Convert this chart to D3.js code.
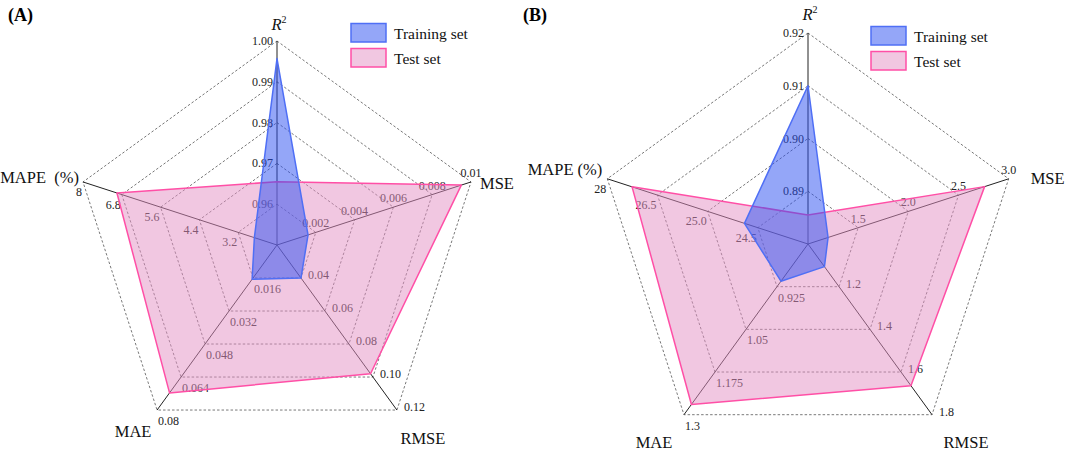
<!DOCTYPE html>
<html><head><meta charset="utf-8">
<script src="https://cdn.jsdelivr.net/npm/d3@7"></script>
<style>
body{margin:0;background:#fff}
svg{display:block}
text{font-family:"Liberation Serif","Times New Roman",serif}
</style>
</head><body>
<svg id="chart" width="1065" height="451"></svg>
<script>
// ---------- data ----------
const seriesNames = ["Training set", "Test set"];

// Panel (A)
const axisNamesA = ["R²", "MSE", "RMSE", "MAE", "MAPE\u00a0 (%)"];
const domainsA = [[0.95, 1.00], [0, 0.01], [0.02, 0.12], [0, 0.08], [2, 8]];
const tickLabelsA = [
  ["0.96", "0.97", "0.98", "0.99", "1.00"],
  ["0.002", "0.004", "0.006", "0.008", "0.01"],
  ["0.04", "0.06", "0.08", "0.10", "0.12"],
  ["0.016", "0.032", "0.048", "0.064", "0.08"],
  ["3.2", "4.4", "5.6", "6.8", "8"]
];
const trainA = [0.9957, 0.0016, 0.040, 0.0166, 2.7];
const testA  = [0.9655, 0.0095, 0.098, 0.0717, 6.95];

// Panel (B)
const axisNamesB = ["R²", "MSE", "RMSE", "MAE", "MAPE (%)"];
const domainsB = [[0.88, 0.92], [1.0, 3.0], [1.0, 1.8], [0.8, 1.3], [22, 28]];
const tickLabelsB = [
  ["0.89", "0.90", "0.91", "0.92"],
  ["1.5", "2.0", "2.5", "3.0"],
  ["1.2", "1.4", "1.6", "1.8"],
  ["0.925", "1.05", "1.175", "1.3"],
  ["24.5", "25.0", "26.5", "28"]
];
const trainB = [0.910, 1.2, 1.106, 0.909, 23.9];
const testB  = [0.8855, 2.76, 1.664, 1.27, 27.26];

// ---------- layout ----------
const panels = [
  { tag: "(A)", tagX: 8, tagY: 21, cx: 277, cy: 245, R: 204,
    names: axisNamesA, domains: domainsA, ticks: tickLabelsA, train: trainA, test: testA,
    nameOff: [[2, -11, "middle"], [9, 7, "start"], [26, 34, "middle"], [-24, 27, "middle"], [-4, 1, "end"]],
    legX: 351, legY: 23.5 },
  { tag: "(B)", tagX: 523, tagY: 21, cx: 808, cy: 244, R: 211,
    names: axisNamesB, domains: domainsB, ticks: tickLabelsB, train: trainB, test: testB,
    nameOff: [[2, -13, "middle"], [22, 5, "start"], [34, 33, "middle"], [-30, 33, "middle"], [-5, -4, "end"]],
    legX: 871, legY: 26.5 }
];
// tick label placement per axis: [anchor, dx, dy]
const tickPlace = [["end", -4, 4], ["middle", 0, -5], ["start", 7, 1], ["start", 1, 15], ["end", -1, 14]];

const colors = { trainFill: "#2a4df2", trainStroke: "#4f6ff5", testFill: "#e38fc3", testStroke: "#ff4fa6" };

const svg = d3.select("#chart");
const N = 5;
const angle = i => i * 2 * Math.PI / N; // clockwise from 12 o'clock

panels.forEach(p => {
  const g = svg.append("g").attr("transform", `translate(${p.cx},${p.cy})`);
  const scales = p.domains.map(d => d3.scaleLinear().domain(d).range([0, p.R]));
  const nRings = p.ticks[0].length;
  const pt = (i, r) => [r * Math.sin(angle(i)), -r * Math.cos(angle(i))];

  // rings
  const ringLine = d3.lineRadial().angle((d, i) => angle(i)).radius(d => d).curve(d3.curveLinearClosed);
  for (let k = 1; k <= nRings; k++) {
    const rr = d3.range(N).map(i => scales[i](p.domains[i][0] + k / nRings * (p.domains[i][1] - p.domains[i][0])));
    g.append("path").attr("d", ringLine(rr)).attr("fill", "none")
      .attr("stroke", "#555").attr("stroke-width", 0.8).attr("stroke-dasharray", "2.5,2");
  }
  // axes
  d3.range(N).forEach(i => {
    const e = pt(i, p.R);
    g.append("line").attr("x1", 0).attr("y1", 0).attr("x2", e[0]).attr("y2", e[1])
      .attr("stroke", "#222").attr("stroke-width", 1);
  });
  // tick labels
  d3.range(N).forEach(i => {
    p.ticks[i].forEach((lab, k) => {
      const v = p.domains[i][0] + (k + 1) / nRings * (p.domains[i][1] - p.domains[i][0]);
      const q = pt(i, scales[i](v));
      const tp = tickPlace[i];
      g.append("text").attr("x", q[0] + tp[1]).attr("y", q[1] + tp[2])
        .attr("text-anchor", tp[0]).attr("font-size", 12).attr("fill", "#222").text(lab);
    });
  });
  // axis names
  p.names.forEach((nm, i) => {
    const e = pt(i, p.R), o = p.nameOff[i];
    const t = g.append("text").attr("x", e[0] + o[0]).attr("y", e[1] + o[1])
      .attr("text-anchor", o[2]).attr("font-size", 16.5).attr("fill", "#111");
    if (nm === "R²") {
      t.append("tspan").attr("font-style", "italic").text("R");
      t.append("tspan").attr("font-size", 10).attr("dy", -7).text("2");
    } else t.text(nm);
  });
  // polygons
  const radial = vals => d3.lineRadial().angle((d, i) => angle(i)).radius((d, i) => scales[i](d)).curve(d3.curveLinearClosed)(vals);
  g.append("path").attr("d", radial(p.test)).attr("fill", colors.testFill).attr("fill-opacity", 0.5)
    .attr("stroke", colors.testStroke).attr("stroke-width", 1.5).attr("stroke-linejoin", "round");
  g.append("path").attr("d", radial(p.train)).attr("fill", colors.trainFill).attr("fill-opacity", 0.5)
    .attr("stroke", colors.trainStroke).attr("stroke-width", 1.5).attr("stroke-linejoin", "round");

  // panel tag
  svg.append("text").attr("x", p.tagX).attr("y", p.tagY).attr("font-size", 18).attr("font-weight", "bold").text(p.tag);

  // legend
  const lg = svg.append("g").attr("transform", `translate(${p.legX},${p.legY})`);
  const sw = [[colors.trainFill, colors.trainStroke], [colors.testFill, colors.testStroke]];
  seriesNames.forEach((s, j) => {
    lg.append("rect").attr("x", 0).attr("y", j * 25).attr("width", 35).attr("height", 18.5)
      .attr("fill", sw[j][0]).attr("fill-opacity", 0.5).attr("stroke", sw[j][1]).attr("stroke-width", 1.5);
    lg.append("text").attr("x", 43).attr("y", j * 25 + 15).attr("font-size", 15.5).attr("fill", "#111").text(s);
  });
});
</script>
</body></html>
